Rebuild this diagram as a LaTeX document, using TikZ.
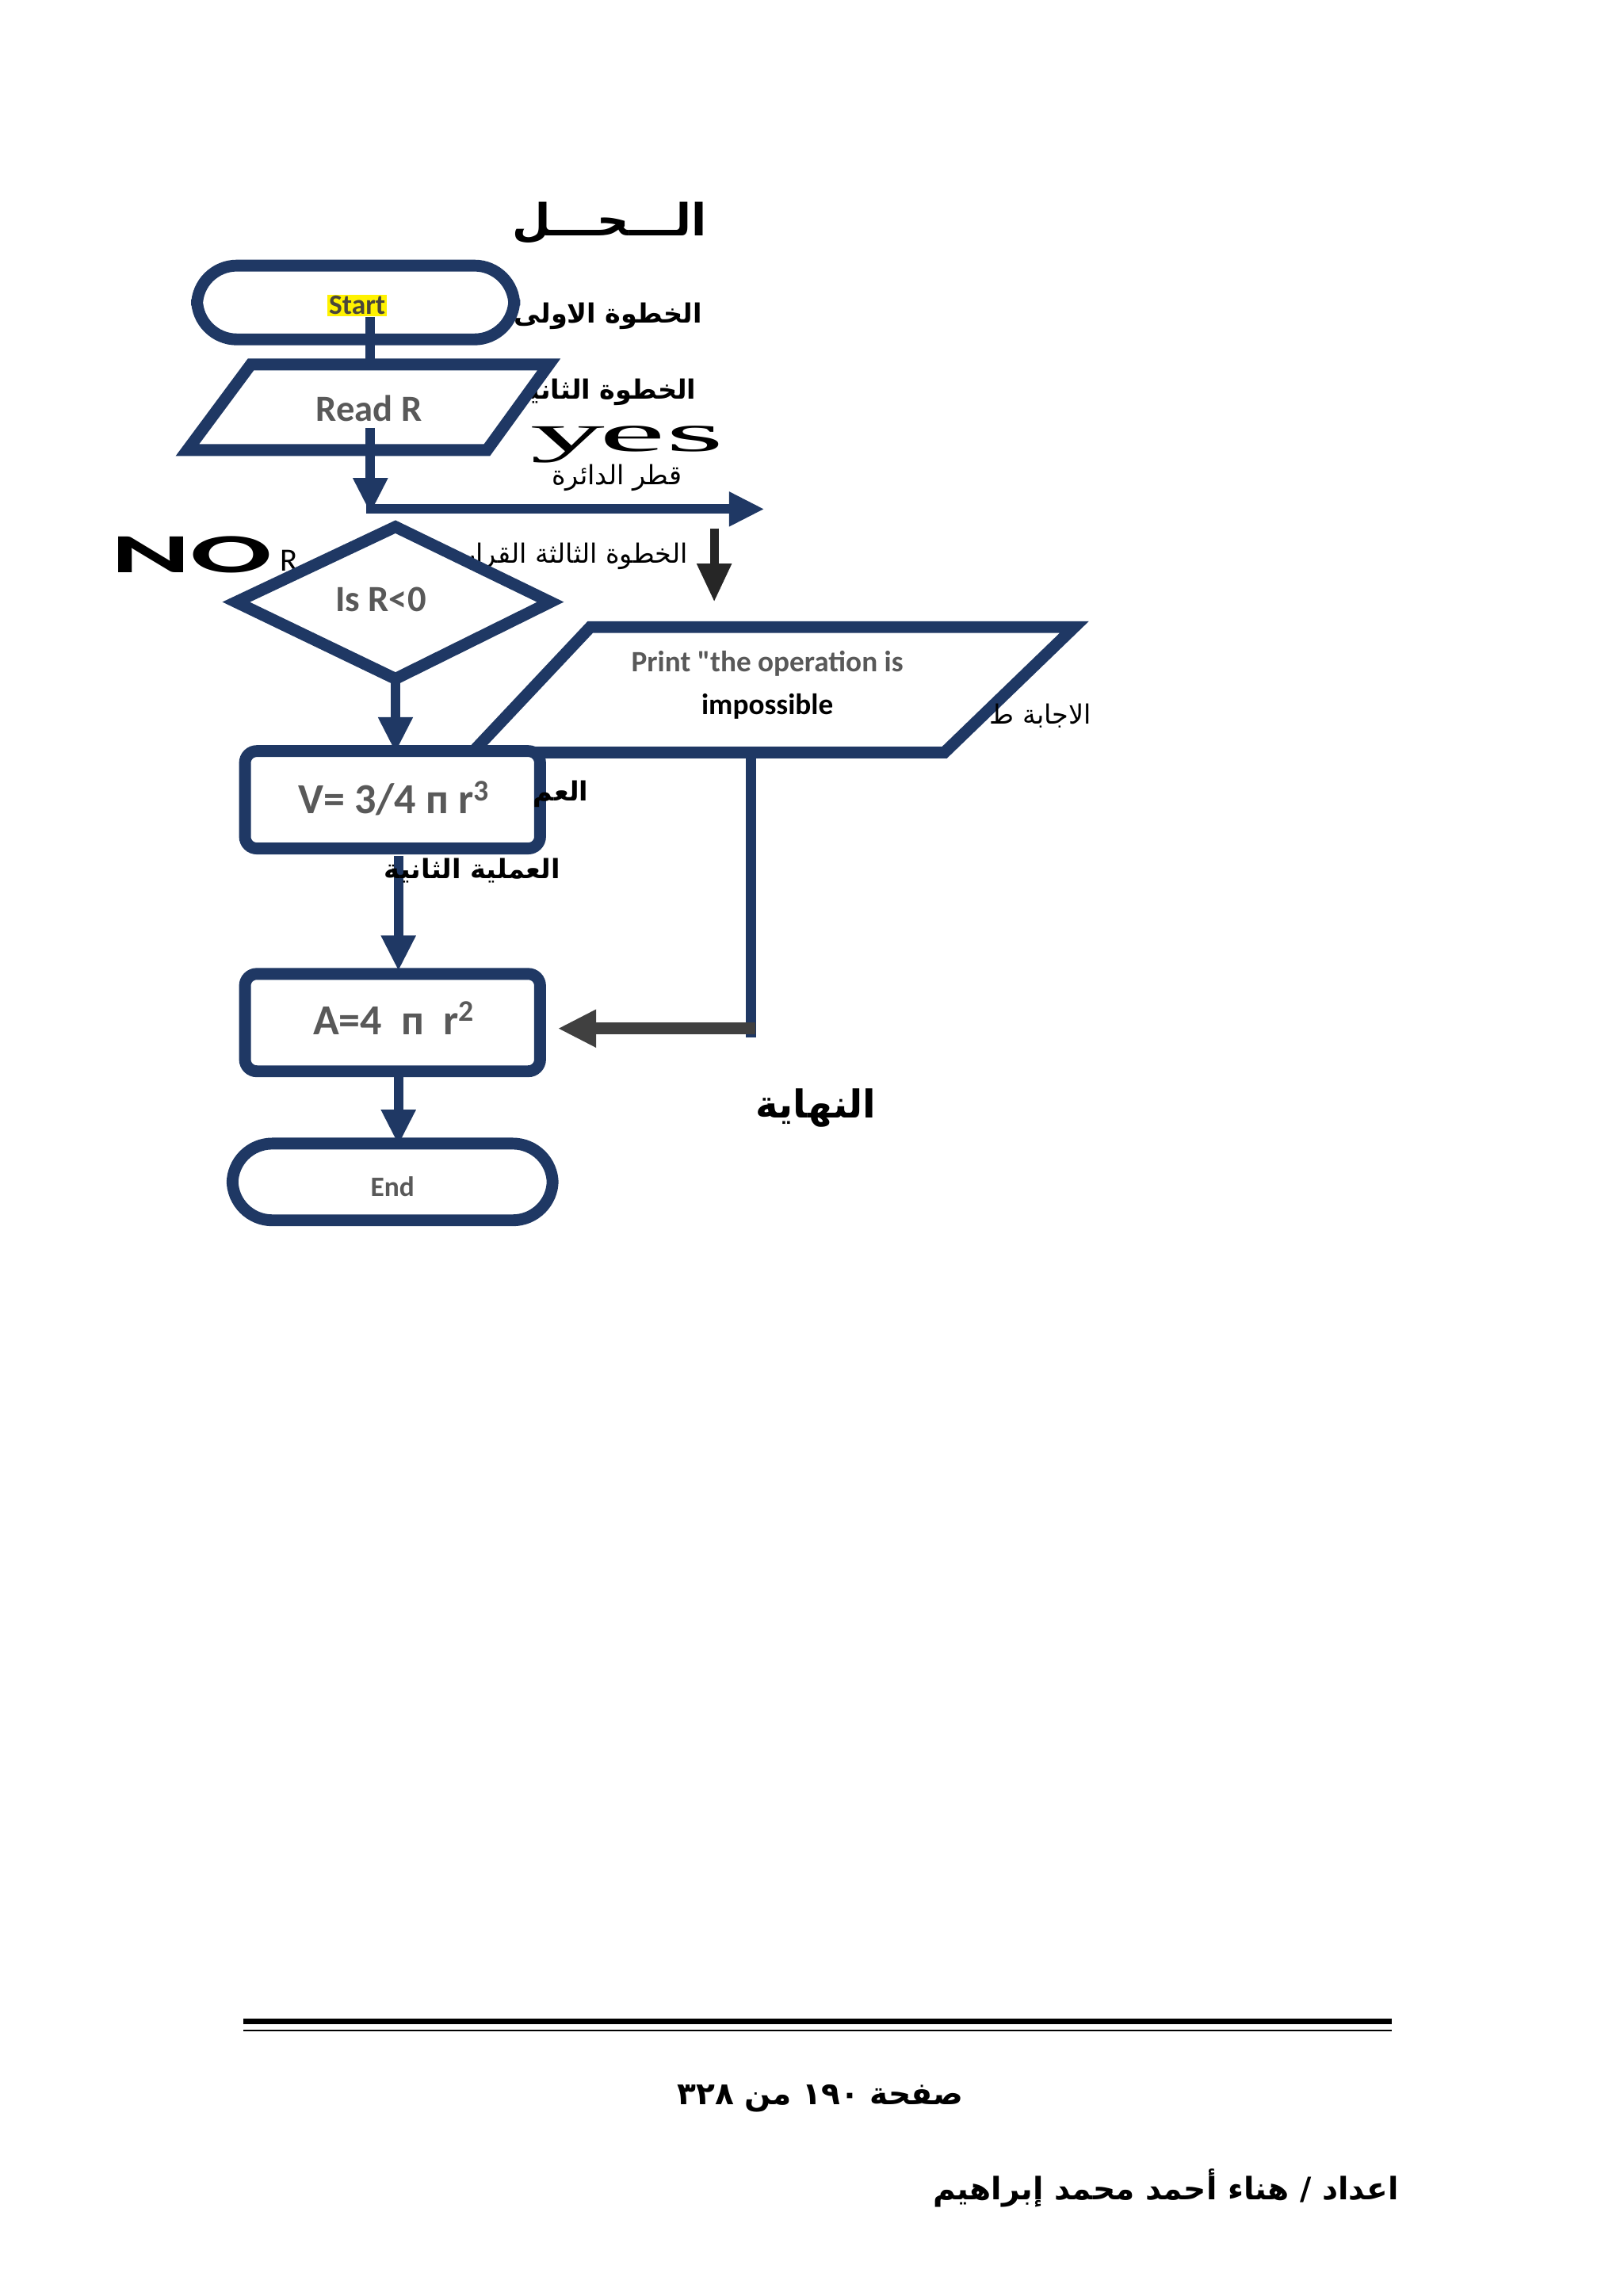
\documentclass[tikz,border=0pt]{standalone}
\usepackage{fontspec}
\setmainfont{Carlito}
\newfontfamily\carlplain{Carlito}
\newfontfamily\arabicfont[Script=Arabic]{DejaVu Sans}
\newfontfamily\yesfont{Liberation Serif}
\TeXXeTstate=1
\usetikzlibrary{arrows.meta,shapes.geometric}
\definecolor{navy}{HTML}{1F3864}
\definecolor{txtgray}{HTML}{595959}
\begin{document}
\begin{tikzpicture}[x=1pt,y=-1pt,
  box/.style={draw=navy,line width=8pt,fill=white},
  ar/.style={text=black,font=\arabicfont\fontsize{18}{20}\selectfont},
  arb/.style={text=black,font=\arabicfont\bfseries\fontsize{18}{20}\selectfont},
  conn/.style={draw=navy,line width=6.5pt,-{Triangle[width=22pt,length=24pt]}},
  lbl/.style={text=txtgray,font=\bfseries\fontsize{25}{28}\selectfont}]
\useasboundingbox[fill=white] (0,0) rectangle (1100,1556);
% title and labels
\node[ar,font=\arabicfont\bfseries\fontsize{30}{34}\selectfont] (title) at (413,151) {\beginR الـــحـــل\endR};
\node[arb] (l1) at (412,214) {\beginR الخطوة الاولى\endR};
\node[arb] (l2) at (410,266) {\beginR الخطوة الثانية\endR};
\node[ar] (l3) at (418,324) {\beginR قطر الدائرة\endR};
\node[ar] (l4) at (390,377) {\beginR الخطوة الثالثة القرار\endR};
% arrows behind
\coordinate (rend) at (518,345);
\draw[conn] (248,345) -- (rend);
\draw[line width=6pt,draw=black!85,-{Triangle[width=22pt,length=26pt]}] (484,358) -- (484,408);
% Start
\node[box,rounded corners=27pt,minimum width=215pt,minimum height=50pt] (start) at (241,205) {};
\node[fill=yellow,inner sep=1pt,text=black!70!yellow!60!black,font=\bfseries\fontsize{19}{22}\selectfont] (starttxt) at (242,207) {Start};
\draw[conn] (251,215) -- (251,268);
% Read R
\draw[box] (170,247) -- (372,247) -- (330,305) -- (127,305) -- cycle;
\node[lbl] (read) at (250,277) {Read R};
\draw[conn] (251,290) -- (251,348);
% Yes
\node (yes) at (425,301) {\yesfont\scalebox{3.6}[1.3]{\fontsize{28}{30}\selectfont y\kern-1pt es}};
% NO
\node (no) at (130,376) {\bfseries\scalebox{2.4}[1.1]{\fontsize{34}{36}\selectfont NO}};
\node[font=\fontsize{22}{24}\selectfont] (rr) at (196,380) {R};
% diamond
\draw[box] (268,357) -- (373,408) -- (268,460) -- (160,408) -- cycle;
\node[lbl] (dec) at (258,406) {Is R<0};
% print parallelogram
\draw[box] (400,425) -- (728,425) -- (640,510) -- (320,510) -- cycle;
\node[text=txtgray,font=\carlplain\bfseries\fontsize{20}{22}\selectfont] (p1) at (520,450) {Print "the operation is};
\node[text=black,font=\bfseries\fontsize{20}{22}\selectfont] (p2) at (520,479) {impossible};
\node[ar] (l5) at (705,485) {\beginR الاجابة ط\endR};
% V box
\draw[conn] (268,460) -- (268,510);
\node[box,rounded corners=8pt,minimum width=200pt,minimum height=66pt] (vbox) at (266,542) {};
\node[lbl,font=\bfseries\fontsize{29}{32}\selectfont] (vtxt) at (267,541) {V= 3/4 п r$^{\mathbf 3}$};
\node[arb] (l6) at (380,538) {\beginR العم\endR};
% A box
\draw[conn] (270,580) -- (270,658);
\node[arb] (l7) at (320,590) {\beginR العملية الثانية\endR};
\node[box,rounded corners=8pt,minimum width=200pt,minimum height=66pt] (abox) at (266,693) {};
\node[lbl,font=\bfseries\fontsize{29}{32}\selectfont] (atxt) at (267,690) {A=4\ \ п\ \ r$^{\mathbf 2}$};
% yes branch down and left
\coordinate (pb) at (509,510);
\coordinate (pc) at (509,703);
\draw[navy,line width=7pt] (pb) -- (pc);
\draw[line width=8pt,draw=black!75,-{Triangle[width=24pt,length=26pt]}] (512,697) -- (378,697);
\node[ar,font=\arabicfont\bfseries\fontsize{26}{30}\selectfont] (l8) at (553,751) {\beginR النهاية\endR};
% End
\draw[conn] (270,728) -- (270,776);
\node[box,rounded corners=27pt,minimum width=217pt,minimum height=52pt] (end) at (266,801) {};
\node[text=txtgray,font=\bfseries\fontsize{19}{22}\selectfont] (endtxt) at (266,804) {End};
% footer
\coordinate (fl) at (165,1370);
\coordinate (fr) at (943,1370);
\draw[line width=4pt] (fl) -- (fr);
\draw[line width=1pt] (165,1376) -- (943,1376);
\node[ar,font=\arabicfont\bfseries\fontsize{21}{24}\selectfont] (page) at (556,1422) {\beginR صفحة ١٩٠ من ٣٢٨\endR};
\node[ar,font=\arabicfont\bfseries\fontsize{21}{24}\selectfont] (auth) at (790,1483) {\beginR اعداد / هناء أحمد محمد إبراهيم\endR};
\end{tikzpicture}
\end{document}
